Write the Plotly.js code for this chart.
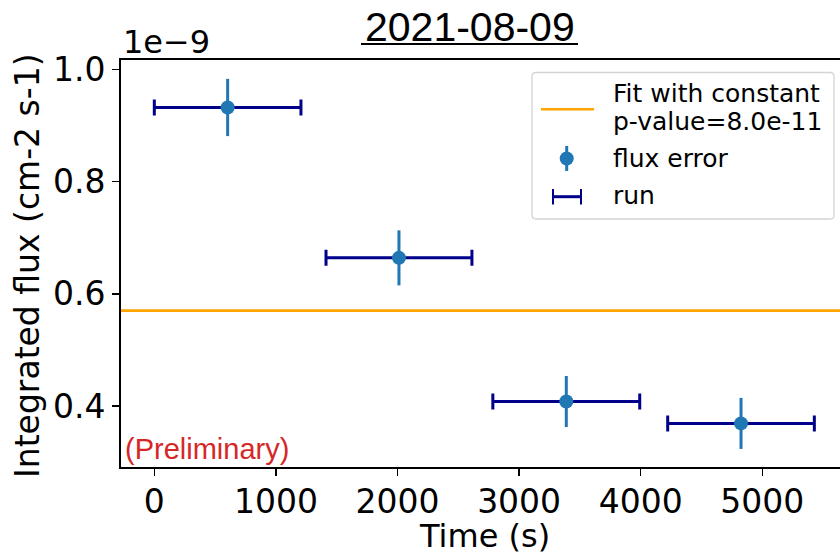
<!DOCTYPE html>
<html>
<head>
<meta charset="utf-8">
<script src="https://cdn.plot.ly/plotly-3.0.1.min.js"></script>
<style>html,body{margin:0;padding:0;background:#fff;overflow:hidden}</style>
</head>
<body>
<div id="chart" style="width:840px;height:554px"></div>
<script>
// ---- data (flux in units of 1e-9 cm-2 s-1) ----
const runCenter = [603, 2012, 3388, 4825];        // Time (s)
const runHalfWidth = [603, 600, 604, 603];         // half run duration (s)
const fluxE9 = [0.932, 0.664, 0.408, 0.369];       // integrated flux / 1e-9
const fluxErrE9 = [0.051, 0.049, 0.0455, 0.0455];  // flux error / 1e-9
const fitConstE9 = 0.570;                           // constant fit / 1e-9
const fitPValue = "8.0e-11";
const xTicks = [0, 1000, 2000, 3000, 4000, 5000];
const yTicks = [0.4, 0.6, 0.8, 1.0];
const titleText = "2021-08-09";

// ---- layout geometry ----
const W = 840, H = 554, L = 121, R = 0, T = 60, B = 87;
const PW = W - L - R, PH = H - T - B;
const px = x => (x - L) / PW;
const py = y => (H - B - y) / PH;

const DV = "DejaVu Sans, sans-serif";
const LIB = "Liberation Sans, Arial, sans-serif";
const darkblue = "#00008b", tabBlue = "#1f77b4", orange = "#ffa500";

const traces = [
  {
    type: "scatter", mode: "markers", x: runCenter, y: fluxE9,
    marker: {size: 1, color: "rgba(0,0,0,0)"},
    error_x: {type: "data", array: runHalfWidth, visible: true, color: darkblue, thickness: 3, width: 8},
    showlegend: false, hoverinfo: "skip"
  },
  {
    type: "scatter", mode: "markers", x: runCenter, y: fluxE9,
    marker: {size: 14, color: tabBlue},
    error_y: {type: "data", array: fluxErrE9, visible: true, color: tabBlue, thickness: 3, width: 0},
    showlegend: false, hoverinfo: "skip"
  }
];

function roundRect(x0, y0, x1, y1, r) {
  // pixel coordinates -> paper path
  const X = v => px(v), Y = v => py(v);
  return `M ${X(x0 + r)} ${Y(y0)} L ${X(x1 - r)} ${Y(y0)} Q ${X(x1)} ${Y(y0)} ${X(x1)} ${Y(y0 + r)} ` +
         `L ${X(x1)} ${Y(y1 - r)} Q ${X(x1)} ${Y(y1)} ${X(x1 - r)} ${Y(y1)} L ${X(x0 + r)} ${Y(y1)} ` +
         `Q ${X(x0)} ${Y(y1)} ${X(x0)} ${Y(y1 - r)} L ${X(x0)} ${Y(y0 + r)} Q ${X(x0)} ${Y(y0)} ${X(x0 + r)} ${Y(y0)} Z`;
}

const shapes = [
  // constant fit line across the axes
  {type: "line", xref: "paper", yref: "y", x0: 0, x1: 1, y0: fitConstE9, y1: fitConstE9,
   line: {color: orange, width: 2.6}, layer: "below"},
  // title underline
  {type: "line", xref: "paper", yref: "paper", x0: px(361), x1: px(578), y0: py(44), y1: py(44),
   line: {color: "#000", width: 1.8}},
  // legend box
  {type: "path", xref: "paper", yref: "paper", path: roundRect(532, 72.5, 834, 219, 4),
   fillcolor: "rgba(255,255,255,0.8)", line: {color: "#d4d4d4", width: 1.3}},
  // legend handle: fit
  {type: "line", xref: "paper", yref: "paper", x0: px(541), x1: px(594), y0: py(109.3), y1: py(109.3),
   line: {color: orange, width: 2.6}},
  // legend handle: flux error
  {type: "line", xref: "paper", yref: "paper", x0: px(566.7), x1: px(566.7), y0: py(146), y1: py(171),
   line: {color: tabBlue, width: 3}},
  {type: "circle", xref: "paper", yref: "paper", x0: px(559.7), x1: px(573.7), y0: py(151.5), y1: py(165.5),
   fillcolor: tabBlue, line: {color: tabBlue, width: 0}},
  // legend handle: run
  {type: "line", xref: "paper", yref: "paper", x0: px(553), x1: px(581), y0: py(196.7), y1: py(196.7),
   line: {color: darkblue, width: 3}},
  {type: "line", xref: "paper", yref: "paper", x0: px(553), x1: px(553), y0: py(189), y1: py(204.5),
   line: {color: darkblue, width: 2}},
  {type: "line", xref: "paper", yref: "paper", x0: px(581), x1: px(581), y0: py(189), y1: py(204.5),
   line: {color: darkblue, width: 2}}
];

const ann = (text, x, y, opts) => Object.assign({
  text, xref: "paper", yref: "paper", x: px(x), y: py(y), showarrow: false,
  xanchor: "left", yanchor: "middle", font: {family: DV, size: 25, color: "#000"}
}, opts || {});

const annotations = [
  ann(titleText, 469.5, 26.5, {xanchor: "center", font: {family: LIB, size: 41, color: "#000"}}),
  ann("1e\u22129", 121, 41.5, {font: {family: DV, size: 32, color: "#000"}}),
  ann("(Preliminary)", 123, 449, {font: {family: LIB, size: 29, color: "#d62728"}}),
  ann("Time (s)", 484, 535.5, {xanchor: "center", borderpad: 0, font: {family: DV, size: 32, color: "#000"}}),
  ann("Integrated flux (cm-2 s-1)", 27, 266, {xanchor: "center", textangle: -90,
      font: {family: DV, size: 33, color: "#000"}}),
  ann("Fit with constant", 611, 93.5),
  ann("p-value=" + fitPValue, 611, 121.5),
  ann("flux error", 611, 158.3),
  ann("run", 611, 195.3)
];

const axisCommon = {
  showgrid: false, zeroline: false, showline: true, linecolor: "#000", linewidth: 1.8,
  ticks: "outside", ticklen: 7, tickwidth: 1.5, tickcolor: "#000",
  tickfont: {family: DV, size: 33, color: "#000"}, fixedrange: true
};

const layout = {
  width: W, height: H,
  margin: {l: L, r: R, t: T, b: B, pad: 0},
  paper_bgcolor: "#fff", plot_bgcolor: "#fff",
  showlegend: false,
  xaxis: Object.assign({}, axisCommon, {range: [-274, 5639], tickmode: "array", tickvals: xTicks,
    ticktext: xTicks.map(String), mirror: true, ticklabelstandoff: -2}),
  yaxis: Object.assign({}, axisCommon, {range: [0.2913, 1.0166], tickmode: "array", tickvals: yTicks,
    ticktext: yTicks.map(v => v.toFixed(1)), mirror: false}),
  shapes, annotations
};

Plotly.newPlot("chart", traces, layout, {staticPlot: true, displayModeBar: false});
</script>
</body>
</html>
